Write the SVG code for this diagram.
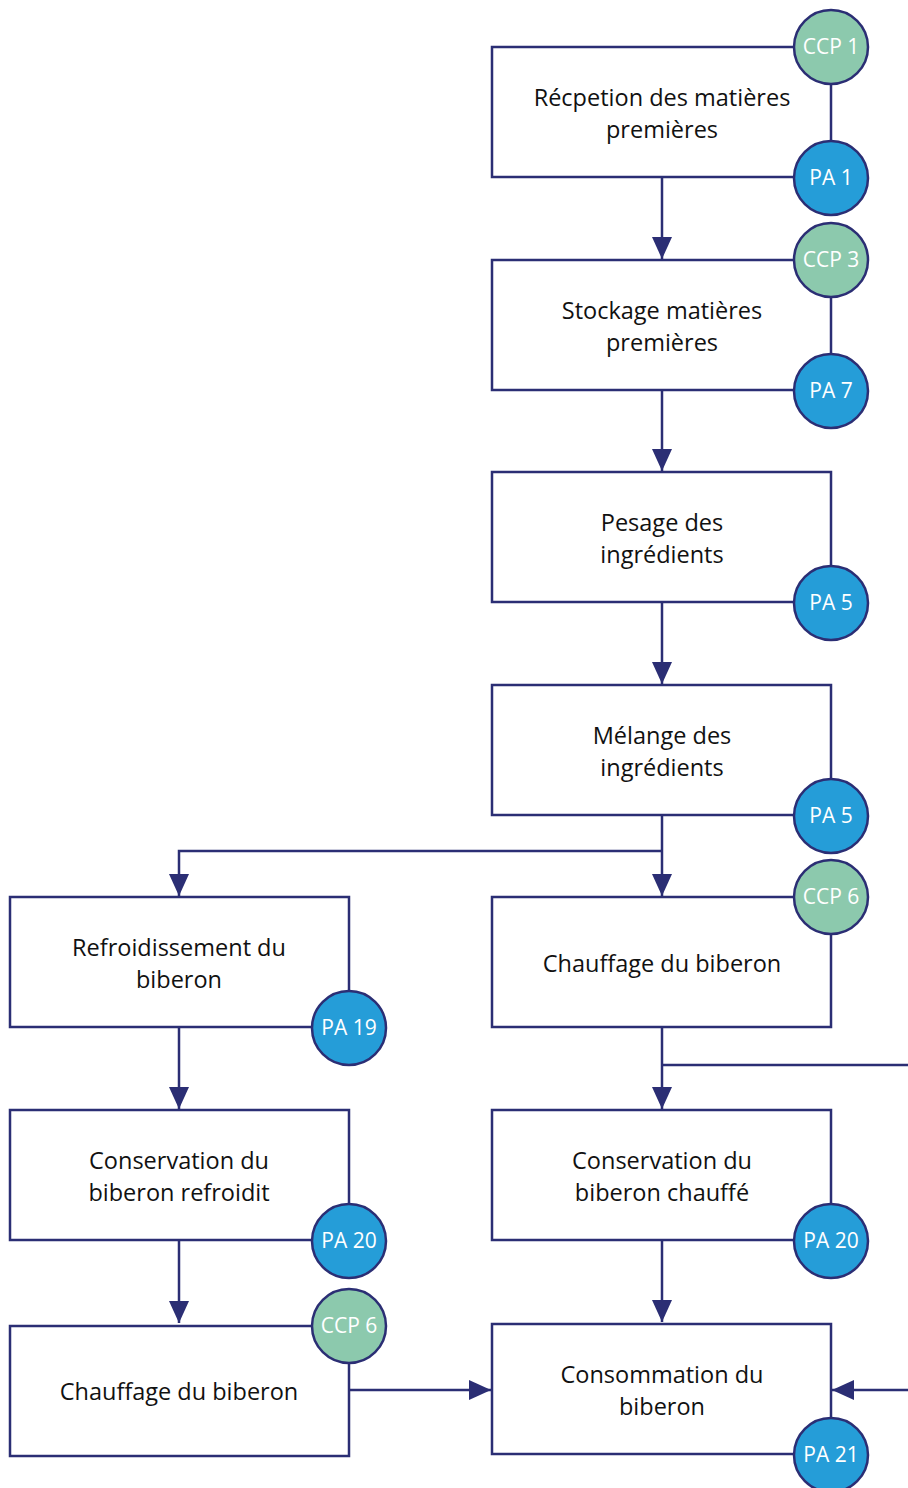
<svg xmlns="http://www.w3.org/2000/svg" width="908" height="1488" viewBox="0 0 908 1488">
<style>
.box{fill:#fff;stroke:#2b2e74;stroke-width:2.5}
.ccp{fill:#8cc9ad;stroke:#2b2e74;stroke-width:2.5}
.pa{fill:#259dd8;stroke:#2b2e74;stroke-width:2.5}
.lbl{font-family:"Open Sans","Noto Sans",sans-serif;font-size:23.5px;fill:#111;text-anchor:middle}
.cl{font-family:"Open Sans","Noto Sans",sans-serif;font-size:21px;fill:#fff;text-anchor:middle}
.ln{fill:none;stroke:#2b2e74;stroke-width:2.5}
</style>
<defs>
<marker id="ah" viewBox="0 0 22 20" refX="22" refY="10" markerWidth="22" markerHeight="20" markerUnits="userSpaceOnUse" orient="auto">
<path d="M0,0 L22,10 L0,20 Z" fill="#2b2e74"/>
</marker>
</defs>
<g id="connectors">
<path class="ln" d="M662,177 V259" marker-end="url(#ah)"/>
<path class="ln" d="M662,390 V471" marker-end="url(#ah)"/>
<path class="ln" d="M662,602 V684" marker-end="url(#ah)"/>
<path class="ln" d="M662,815 V896" marker-end="url(#ah)"/>
<path class="ln" d="M662,851 H179 V896" marker-end="url(#ah)"/>
<path class="ln" d="M179,1027 V1109" marker-end="url(#ah)"/>
<path class="ln" d="M179,1240 V1323" marker-end="url(#ah)"/>
<path class="ln" d="M662,1027 V1109" marker-end="url(#ah)"/>
<path class="ln" d="M662,1065 H908"/>
<path class="ln" d="M662,1240 V1322" marker-end="url(#ah)"/>
<path class="ln" d="M349,1390 H491" marker-end="url(#ah)"/>
<path class="ln" d="M908,1390 H832" marker-end="url(#ah)"/>
</g>
<g id="n1">
<rect class="box" x="492" y="47" width="339" height="130"/>
<text class="lbl" x="662" y="106">Récpetion des matières</text>
<text class="lbl" x="662" y="138">premières</text>
<circle class="ccp" cx="831" cy="47" r="37"/><text class="cl" x="831" y="54">CCP 1</text>
<circle class="pa" cx="831" cy="178" r="37"/><text class="cl" x="831" y="185">PA 1</text>
</g>
<g id="n2">
<rect class="box" x="492" y="260" width="339" height="130"/>
<text class="lbl" x="662" y="319">Stockage matières</text>
<text class="lbl" x="662" y="351">premières</text>
<circle class="ccp" cx="831" cy="260" r="37"/><text class="cl" x="831" y="267">CCP 3</text>
<circle class="pa" cx="831" cy="391" r="37"/><text class="cl" x="831" y="398">PA 7</text>
</g>
<g id="n3">
<rect class="box" x="492" y="472" width="339" height="130"/>
<text class="lbl" x="662" y="531">Pesage des</text>
<text class="lbl" x="662" y="563">ingrédients</text>
<circle class="pa" cx="831" cy="603" r="37"/><text class="cl" x="831" y="610">PA 5</text>
</g>
<g id="n4">
<rect class="box" x="492" y="685" width="339" height="130"/>
<text class="lbl" x="662" y="744">Mélange des</text>
<text class="lbl" x="662" y="776">ingrédients</text>
<circle class="pa" cx="831" cy="816" r="37"/><text class="cl" x="831" y="823">PA 5</text>
</g>
<g id="n5">
<rect class="box" x="492" y="897" width="339" height="130"/>
<text class="lbl" x="662" y="972">Chauffage du biberon</text>
<circle class="ccp" cx="831" cy="897" r="37"/><text class="cl" x="831" y="904">CCP 6</text>
</g>
<g id="n6">
<rect class="box" x="10" y="897" width="339" height="130"/>
<text class="lbl" x="179" y="956">Refroidissement du</text>
<text class="lbl" x="179" y="988">biberon</text>
<circle class="pa" cx="349" cy="1028" r="37"/><text class="cl" x="349" y="1035">PA 19</text>
</g>
<g id="n7">
<rect class="box" x="10" y="1110" width="339" height="130"/>
<text class="lbl" x="179" y="1169">Conservation du</text>
<text class="lbl" x="179" y="1201">biberon refroidit</text>
<circle class="pa" cx="349" cy="1241" r="37"/><text class="cl" x="349" y="1248">PA 20</text>
</g>
<g id="n8">
<rect class="box" x="492" y="1110" width="339" height="130"/>
<text class="lbl" x="662" y="1169">Conservation du</text>
<text class="lbl" x="662" y="1201">biberon chauffé</text>
<circle class="pa" cx="831" cy="1241" r="37"/><text class="cl" x="831" y="1248">PA 20</text>
</g>
<g id="n9">
<rect class="box" x="10" y="1326" width="339" height="130"/>
<text class="lbl" x="179" y="1400">Chauffage du biberon</text>
<circle class="ccp" cx="349" cy="1326" r="37"/><text class="cl" x="349" y="1333">CCP 6</text>
</g>
<g id="n10">
<rect class="box" x="492" y="1324" width="339" height="130"/>
<text class="lbl" x="662" y="1383">Consommation du</text>
<text class="lbl" x="662" y="1415">biberon</text>
<circle class="pa" cx="831" cy="1455" r="37"/><text class="cl" x="831" y="1462">PA 21</text>
</g>
</svg>
